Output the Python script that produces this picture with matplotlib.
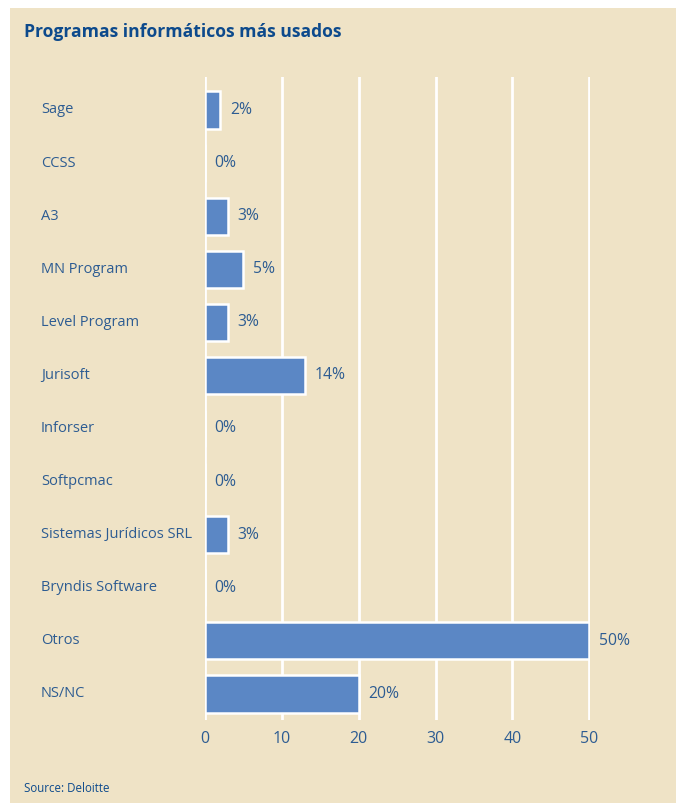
import matplotlib.pyplot as plt
from matplotlib.patches import Rectangle
from matplotlib.transforms import blended_transform_factory

# data
programs = ["Sage", "CCSS", "A3", "MN Program", "Level Program", "Jurisoft",
            "Inforser", "Softpcmac", "Sistemas Jurídicos SRL", "Bryndis Software",
            "Otros", "NS/NC"]
# bar lengths as drawn (Jurisoft bar is drawn shorter than its 14% label)
shares = [2, 0, 3, 5, 3, 13, 0, 0, 3, 0, 50, 20]
share_labels = ["2%", "0%", "3%", "5%", "3%", "14%", "0%", "0%", "3%", "0%", "50%", "20%"]
x_ticks = [0, 10, 20, 30, 40, 50]

BEIGE = "#EFE3C6"
BAR = "#5B87C5"
TXT = "#2D5C92"
TITLE = "#0D4A8C"

plt.rcParams['font.family'] = ['Open Sans', 'DejaVu Sans']

fig = plt.figure(figsize=(6.81, 8.06), dpi=100)
fig.patch.set_facecolor("white")

# beige panel behind everything
W, H = 681, 806
fig.patches.append(Rectangle((10 / W, 3 / H), 666 / W, 795 / H,
                             transform=fig.transFigure, facecolor=BEIGE,
                             edgecolor="none", zorder=-10))

ax = fig.add_axes([205 / W, 1 - 720 / H, 385 / W, 643 / H])
ax.set_zorder(5)
ax.patch.set_alpha(0)

ypos = list(range(len(programs)))
ax.barh(ypos, shares, height=0.7, color=BAR, edgecolor="white", linewidth=1.8, zorder=3)

for y, v, lab in zip(ypos, shares, share_labels):
    ax.annotate(lab, (v, y), xytext=(7, 0), textcoords="offset points",
                ha="left", va="center", color=TXT, fontsize=11.3)

ax.set_xlim(0, 50.1)
ax.set_ylim(len(programs) - 0.51, -0.62)
ax.set_xticks(x_ticks)
ax.set_xticklabels([str(t) for t in x_ticks])
ax.set_yticks([])
ax.tick_params(axis="x", length=0, colors=TXT, labelsize=11.5, pad=8)
ax.grid(axis="x", color="white", linewidth=2.0, zorder=1)
ax.set_axisbelow(True)
for s in ax.spines.values():
    s.set_visible(False)

# category labels, left aligned in the panel
tr = blended_transform_factory(fig.transFigure, ax.transData)
for y, name in zip(ypos, programs):
    ax.text(41 / W, y, name, transform=tr, ha="left", va="center",
            color=TXT, fontsize=10.5, clip_on=False)

fig.text(24 / W, 1 - 32 / H, "Programas informáticos más usados", ha="left",
         va="center", color=TITLE, fontsize=12.6, fontweight="bold")
fig.text(24 / W, 1 - 789 / H, "Source: Deloitte", ha="left", va="center",
         color=TITLE, fontsize=8.3)

fig.savefig("out.png", dpi=100, facecolor=fig.get_facecolor())
